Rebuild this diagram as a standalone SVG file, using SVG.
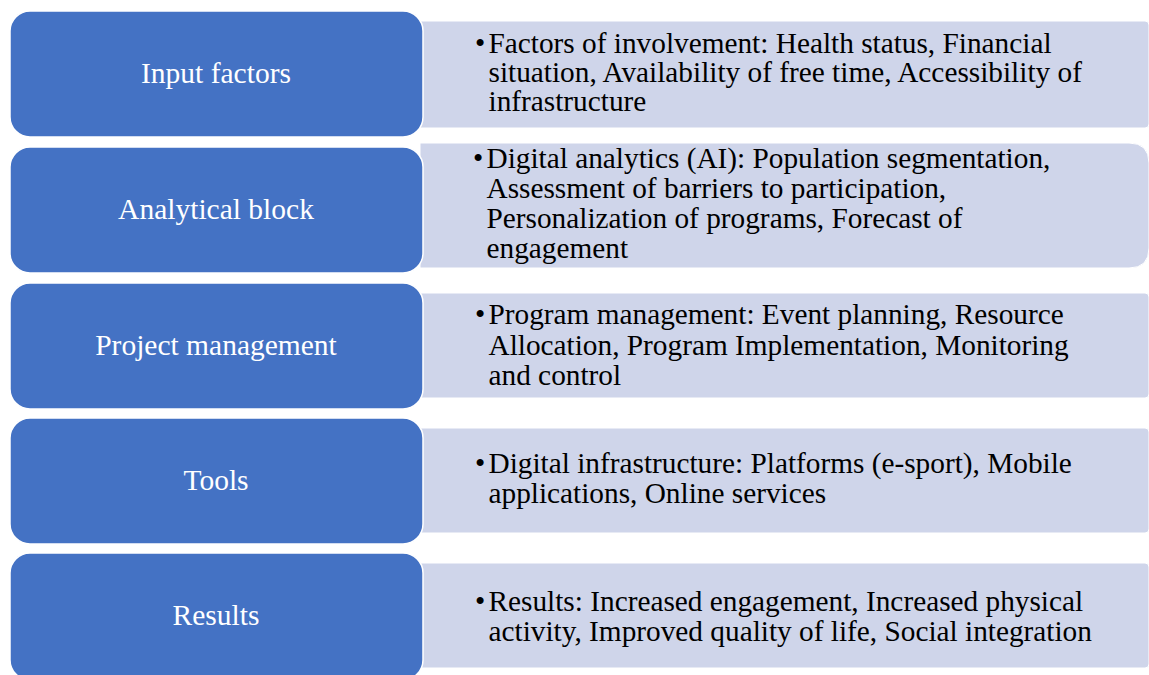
<svg xmlns="http://www.w3.org/2000/svg" width="1149" height="675" viewBox="0 0 1149 675">
  <style>
    .box { fill: #4472C4; stroke: #FFFFFF; stroke-width: 1.5; }
    .panel { fill: #CFD5EA; stroke: #FFFFFF; stroke-width: 1; }
    .label { font-family: "Liberation Serif", "Times New Roman", serif; font-size: 29.5px; fill: #FFFFFF; text-anchor: middle; }
    .detail { font-family: "Liberation Serif", "Times New Roman", serif; font-size: 29.3px; fill: #000000; }
  </style>
  <rect width="1149" height="675" fill="#FFFFFF"/>

  <!-- row 1 -->
  <g id="input-factors">
    <path class="panel" d="M420 21 H1145 Q1149 21 1149 25 V124 Q1149 128 1145 128 H420 Z"/>
    <rect class="box" x="10" y="11" width="413" height="126" rx="20"/>
    <text class="label" x="216" y="83">Input factors</text>
    <text class="detail">
      <tspan x="475" y="53">•</tspan><tspan x="488.5" y="53">Factors of involvement: Health status, Financial</tspan>
      <tspan x="488.5" y="82">situation, Availability of free time, Accessibility of</tspan>
      <tspan x="488.5" y="111">infrastructure</tspan>
    </text>
  </g>

  <!-- row 2 -->
  <g id="analytical-block">
    <path class="panel" d="M420 143 H1129 Q1149 143 1149 163 V248 Q1149 268 1129 268 H420 Z"/>
    <rect class="box" x="10" y="147" width="413" height="126" rx="20"/>
    <text class="label" x="216" y="219">Analytical block</text>
    <text class="detail">
      <tspan x="473" y="168">•</tspan><tspan x="486.5" y="168">Digital analytics (AI): Population segmentation,</tspan>
      <tspan x="486.5" y="198">Assessment of barriers to participation,</tspan>
      <tspan x="486.5" y="228">Personalization of programs, Forecast of</tspan>
      <tspan x="486.5" y="257.5">engagement</tspan>
    </text>
  </g>

  <!-- row 3 -->
  <g id="project-management">
    <path class="panel" d="M420 293 H1145 Q1149 293 1149 297 V394 Q1149 398 1145 398 H420 Z"/>
    <rect class="box" x="10" y="283" width="413" height="126" rx="20"/>
    <text class="label" x="216" y="355">Project management</text>
    <text class="detail">
      <tspan x="475" y="324">•</tspan><tspan x="488.5" y="324">Program management: Event planning, Resource</tspan>
      <tspan x="488.5" y="354.5">Allocation, Program Implementation, Monitoring</tspan>
      <tspan x="488.5" y="384.5">and control</tspan>
    </text>
  </g>

  <!-- row 4 -->
  <g id="tools">
    <path class="panel" d="M420 428 H1145 Q1149 428 1149 432 V529 Q1149 533 1145 533 H420 Z"/>
    <rect class="box" x="10" y="418" width="413" height="126" rx="20"/>
    <text class="label" x="216" y="490">Tools</text>
    <text class="detail">
      <tspan x="475" y="473">•</tspan><tspan x="488.5" y="473">Digital infrastructure: Platforms (e-sport), Mobile</tspan>
      <tspan x="488.5" y="503">applications, Online services</tspan>
    </text>
  </g>

  <!-- row 5 -->
  <g id="results">
    <path class="panel" d="M420 563 H1145 Q1149 563 1149 567 V664 Q1149 668 1145 668 H420 Z"/>
    <rect class="box" x="10" y="553" width="413" height="127" rx="20"/>
    <text class="label" x="216" y="625">Results</text>
    <text class="detail">
      <tspan x="475" y="611">•</tspan><tspan x="488.5" y="611">Results: Increased engagement, Increased physical</tspan>
      <tspan x="488.5" y="641">activity, Improved quality of life, Social integration</tspan>
    </text>
  </g>

  <g id="connectors"/>
</svg>
